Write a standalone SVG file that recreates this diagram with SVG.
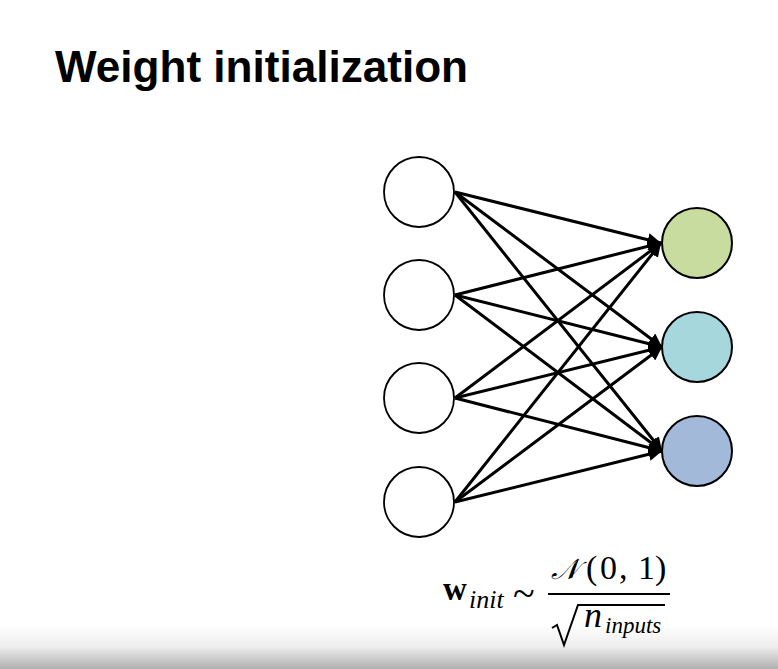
<svg xmlns="http://www.w3.org/2000/svg" width="778" height="669" viewBox="0 0 778 669">
<defs>
<linearGradient id="bot" x1="0" y1="0" x2="0" y2="1">
<stop offset="0" stop-color="#ffffff"/>
<stop offset="0.5" stop-color="#eeeeee"/>
<stop offset="1" stop-color="#b0b0b0"/>
</linearGradient>
<marker id="ah" viewBox="0 0 10 10" refX="10" refY="5" markerWidth="4.5" markerHeight="4.5" orient="auto" markerUnits="strokeWidth">
<path d="M0,0 L10,5 L0,10 z" fill="#000"/>
</marker>
<style>
.in{fill:#fff;stroke:#000;stroke-width:1.8}
.out{stroke:#000;stroke-width:2}
.edge{stroke:#000;stroke-width:3;fill:none;marker-end:url(#ah)}
.serif{font-family:"Liberation Serif","Times New Roman",serif}
</style>
</defs>
<rect width="778" height="669" fill="#fff"/>
<rect x="0" y="624" width="778" height="45" fill="url(#bot)"/>
<text x="55" y="82" font-family="Liberation Sans, Arial, sans-serif" font-weight="bold" font-size="44" textLength="413" lengthAdjust="spacingAndGlyphs" fill="#000">Weight initialization</text>
<g id="connectors">
<line class="edge" x1="455" y1="192" x2="661" y2="243"/>
<line class="edge" x1="455" y1="192" x2="662" y2="347"/>
<line class="edge" x1="455" y1="192" x2="662" y2="451"/>
<line class="edge" x1="455" y1="295" x2="661" y2="243"/>
<line class="edge" x1="455" y1="295" x2="662" y2="347"/>
<line class="edge" x1="455" y1="295" x2="662" y2="451"/>
<line class="edge" x1="455" y1="398" x2="661" y2="243"/>
<line class="edge" x1="455" y1="398" x2="662" y2="347"/>
<line class="edge" x1="455" y1="398" x2="662" y2="451"/>
<line class="edge" x1="455" y1="502" x2="661" y2="243"/>
<line class="edge" x1="455" y1="502" x2="662" y2="347"/>
<line class="edge" x1="455" y1="502" x2="662" y2="451"/>
</g>
<g id="in1"><circle class="in" cx="419" cy="192" r="35"/></g>
<g id="in2"><circle class="in" cx="419" cy="295" r="35"/></g>
<g id="in3"><circle class="in" cx="419" cy="398" r="35"/></g>
<g id="in4"><circle class="in" cx="419" cy="502" r="35"/></g>
<g id="out1"><circle class="out" cx="697" cy="243" r="35" fill="#c9dca0"/></g>
<g id="out2"><circle class="out" cx="697" cy="347" r="35" fill="#a5d7dd"/></g>
<g id="out3"><circle class="out" cx="697" cy="451" r="35" fill="#a3b9d9"/></g>
<g id="formula" class="serif" fill="#000">
<text x="443" y="600" font-size="33" font-weight="bold">w</text>
<text x="469" y="608" font-size="26" font-style="italic">init</text>
<text x="513" y="607" font-size="40">~</text>
<line x1="548" y1="594" x2="670" y2="594" stroke="#000" stroke-width="2"/>
<text y="579" font-size="34"><tspan x="551" font-style="italic" font-family="DejaVu Serif, serif" font-size="29">𝒩</tspan><tspan x="586">(</tspan><tspan x="600">0</tspan><tspan x="619">,</tspan><tspan x="638">1</tspan><tspan x="655">)</tspan></text>
<path d="M552,628 L557,625 L564,645 L578,605 L665,605" fill="none" stroke="#000" stroke-width="2"/>
<text x="584" y="627" font-size="36" font-style="italic">n</text>
<text x="605" y="633" font-size="23" font-style="italic">inputs</text>
</g>
</svg>
